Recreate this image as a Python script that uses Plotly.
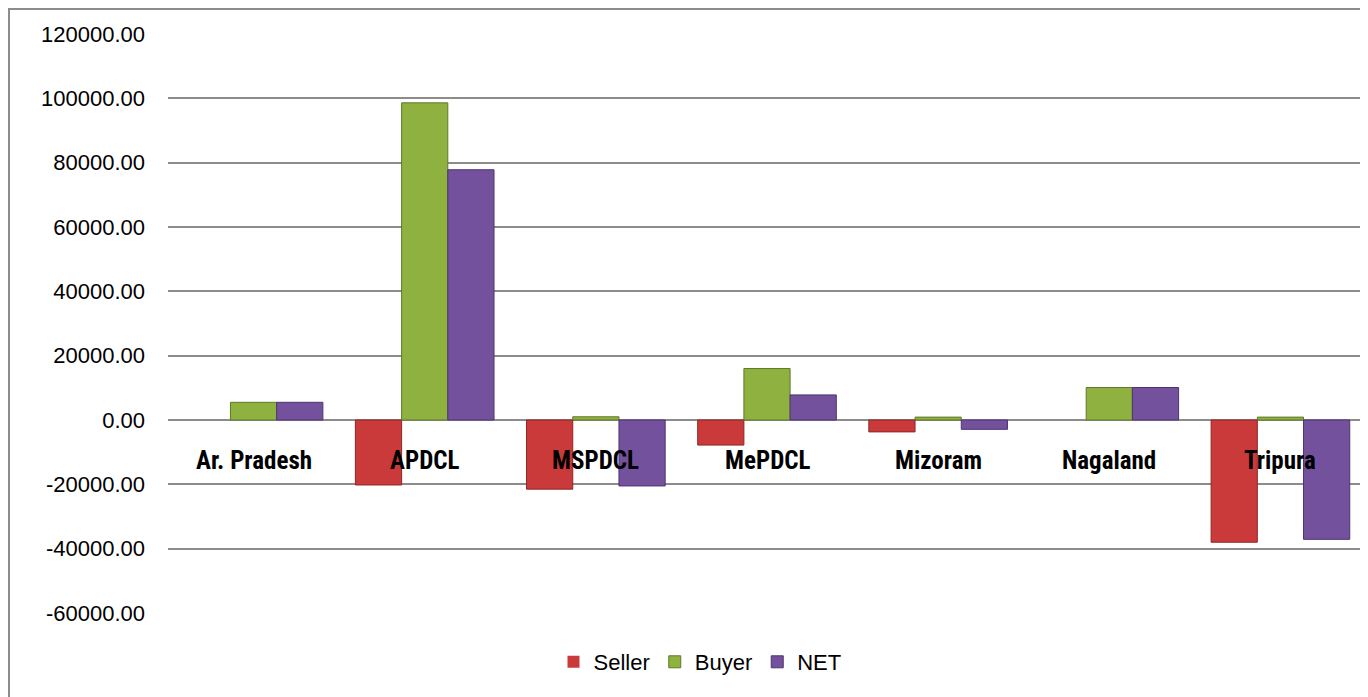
import plotly.graph_objects as go

categories = ["Ar. Pradesh", "APDCL", "MSPDCL", "MePDCL", "Mizoram", "Nagaland", "Tripura"]
seller = [0, -20200, -21500, -7800, -3700, 0, -38000]
buyer = [5500, 98600, 1000, 16000, 900, 10100, 900]
net = [5500, 77800, -20500, 7800, -2900, 10100, -37100]
y_ticks = [-60000, -40000, -20000, 0, 20000, 40000, 60000, 80000, 100000, 120000]
y_tick_labels = [f"{v:.2f}" for v in y_ticks]

series = [
    ("Seller", seller, "#CB3A3A", "#8E2626"),
    ("Buyer", buyer, "#8FB13F", "#5F7A28"),
    ("NET", net, "#74519C", "#4D3470"),
]

fig = go.Figure()
for name, vals, col, edge in series:
    fig.add_trace(go.Bar(
        x=categories, y=vals, name=name,
        marker=dict(color=col, line=dict(color=edge, width=[0 if v == 0 else 1 for v in vals])),
    ))

label_font = dict(family="Liberation Sans Narrow, Arial Narrow, Roboto Condensed, Liberation Sans",
                  size=25, color="#000000", weight="bold")
for c in categories:
    fig.add_annotation(x=c, y=-12700, text=c, showarrow=False,
                       xref="x", yref="y", font=label_font,
                       xanchor="center", yanchor="middle")

# outer chart border (figure sits at an 8px page offset)
fig.add_shape(type="rect", xref="paper", yref="paper",
              x0=(1 - 160) / 1198, x1=(1400 - 160) / 1198,
              y0=(605 - 720) / 579, y1=(605 - 1) / 579,
              line=dict(color="#8C8C8C", width=2), fillcolor="rgba(0,0,0,0)", layer="below")

fig.update_layout(
    width=1368, height=697,
    margin=dict(l=160, r=10, t=26, b=92),
    paper_bgcolor="white", plot_bgcolor="white",
    barmode="group", bargap=0.19, bargroupgap=0,
    font=dict(family="Liberation Sans, Arial, sans-serif", size=22, color="#000000"),
    showlegend=True,
    legend=dict(orientation="h", x=(700 - 168) / 1198, xanchor="center",
                y=(613 - 662) / 579, yanchor="middle",
                font=dict(size=22), itemwidth=30, tracegroupgap=0,
                bgcolor="rgba(0,0,0,0)"),
    xaxis=dict(showticklabels=False, showgrid=False, zeroline=False, showline=False, ticks=""),
    yaxis=dict(range=[-60000, 120000], tickvals=y_ticks, ticktext=y_tick_labels,
               showgrid=True, gridcolor="#8C8C8C", gridwidth=1.5,
               zeroline=True, zerolinecolor="#8C8C8C", zerolinewidth=1.5,
               showline=False, ticks="", ticklabelstandoff=22,
               tickfont=dict(size=22)),
)

fig.write_html("out.html")
